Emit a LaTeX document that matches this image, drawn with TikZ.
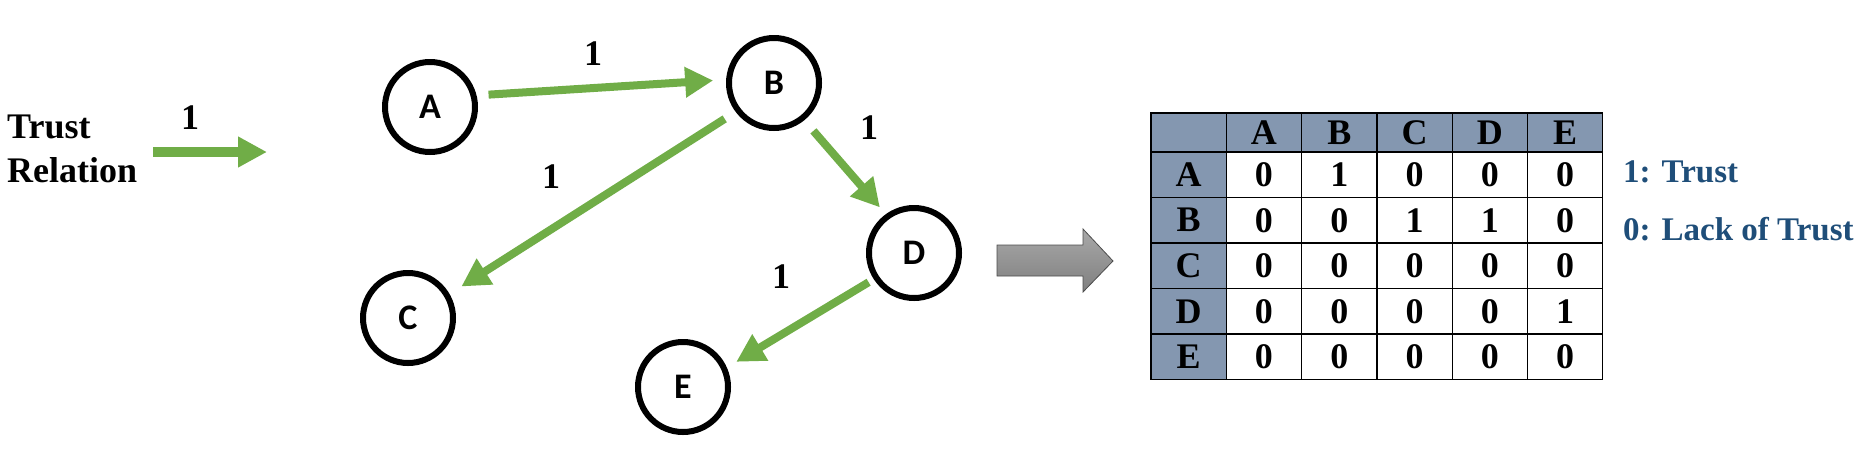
\documentclass[tikz,border=0pt]{standalone}
\usepackage{fontspec}
\setmainfont{Liberation Serif}
\newfontfamily\agentfont{Carlito}
\usepackage{tikz}
\usetikzlibrary{arrows.meta}
\definecolor{trustgreen}{HTML}{70AD47}
\definecolor{headfill}{HTML}{8497B0}
\definecolor{legendblue}{HTML}{1F4E79}
\newcommand{\bigbold}[1]{\bfseries\fontsize{#1}{#1}\selectfont}
\tikzset{
  agent/.style={circle,draw,line width=6pt,minimum size=90pt,inner sep=0pt,
    font=\agentfont\bigbold{36}},
  trust arrow/.style={draw=trustgreen,line width=8pt,
    -{Triangle[width=29pt,length=28pt]}},
  trust edge/.style={trust arrow,shorten <=11pt,shorten >=12pt},
  edge label/.style={font=\bigbold{36},inner sep=1pt},
  cell/.style={draw,line width=1.2pt,minimum width=75.3pt,minimum height=45.5pt,
    inner sep=0pt,font=\bigbold{36}},
  head cell/.style={cell,fill=headfill},
  legend text/.style={font=\bigbold{33},text=legendblue,inner sep=0pt}
}

\begin{document}
\begin{tikzpicture}[x=1pt,y=-1pt,line join=miter]
  \useasboundingbox (0,0) rectangle (1871,451);

  % legend on the left
  \node[font=\bfseries\fontsize{36}{44}\selectfont,align=left,anchor=west,inner sep=0pt]
    (rel) at (7,148.5) {Trust\\Relation};
  \coordinate (key-s) at (153,152);
  \coordinate (key-e) at (267,152);
  \draw[trust arrow,line width=10pt,-{Triangle[width=29pt,length=29pt]}] (key-s) -- (key-e);
  \node[edge label] (key-w) at (190,118) {1};

  % trust graph
  \node[agent] (A) at (430,107) {A};
  \node[agent] (B) at (774,83) {B};
  \node[agent] (C) at (408,318) {C};
  \node[agent] (D) at (914,253) {D};
  \node[agent] (E) at (683,387) {E};

  \draw[trust edge,shorten <=12pt,shorten >=13pt] (A.14) -- (B.176);
  \draw[trust edge,shorten <=13pt,shorten >=14pt] (B.217) -- (C.30);
  \draw[trust edge,shorten <=14pt,shorten >=9pt] (B.309) -- (D.126);
  \draw[trust edge,shorten <=6pt,shorten >=11pt] (D.213) -- (E.24);

  \node[edge label] (l-ab) at (593,54) {1};
  \node[edge label] (l-bc) at (551,177) {1};
  \node[edge label] (l-bd) at (869,128) {1};
  \node[edge label] (l-de) at (781,277) {1};

  % conversion arrow
  \shade[top color=black!34,bottom color=black!50,draw=black!70,line width=0.8pt]
    (997,245) -- (1083,245) -- (1083,229) -- (1113,261) -- (1083,292)
    -- (1083,276) -- (997,276) -- cycle;

  % adjacency matrix
  \node[head cell,minimum height=39pt] (corner) at ({1151+75.3*0.5},132.5) {};
  \foreach \c [count=\j] in {A,B,C,D,E}
    \node[head cell,minimum height=39pt] (h-\c) at ({1151+75.3*(\j+0.5)},132.5) {\c};
  \foreach \r/\vals [count=\i] in {A/{0,1,0,0,0},B/{0,0,1,1,0},C/{0,0,0,0,0},
      D/{0,0,0,0,1},E/{0,0,0,0,0}} {
    \node[head cell] (r-\r) at ({1151+75.3*0.5},{129.25+45.5*\i}) {\r};
    \foreach \v [count=\j] in \vals
      \node[cell] (m-\i-\j) at ({1151+75.3*(\j+0.5)},{129.25+45.5*\i}) {\v};
  }

  \node[legend text,anchor=base west] (key-one) at (1623,182) {1: Trust};
  \node[legend text,anchor=base west] (key-zero) at (1623,240) {0: Lack of Trust};
\end{tikzpicture}
\end{document}
